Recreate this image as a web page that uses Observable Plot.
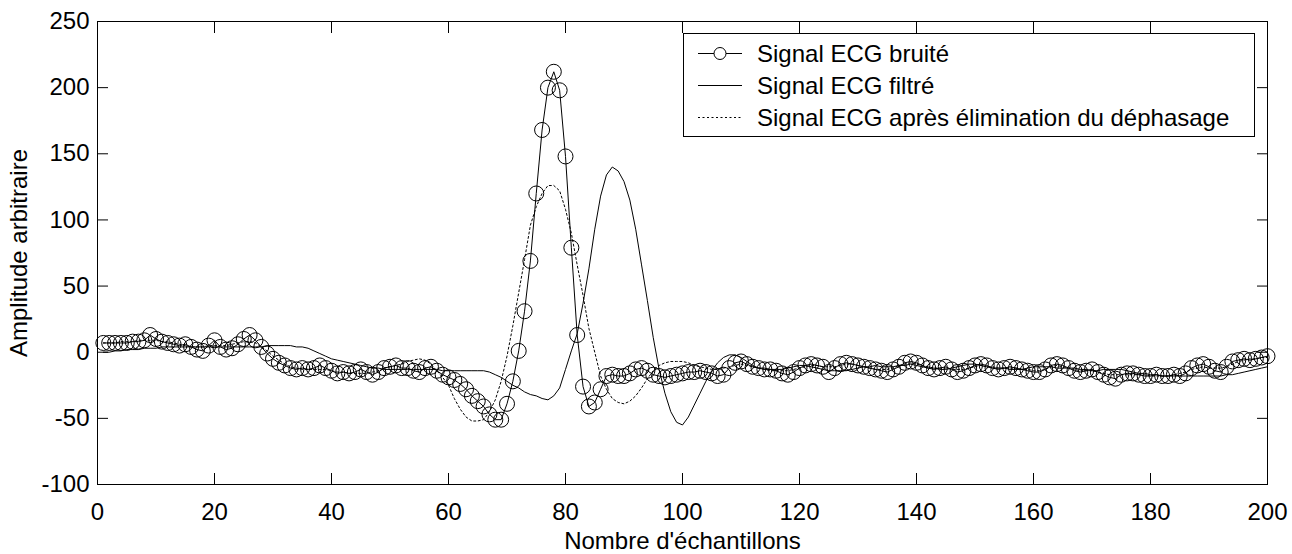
<!DOCTYPE html>
<html><head><meta charset="utf-8">
<script src="https://cdn.jsdelivr.net/npm/d3@7"></script>
<script src="https://cdn.jsdelivr.net/npm/@observablehq/plot@0.6"></script>
<style>body{margin:0;background:#fff;} #chart svg{display:block;}</style>
</head><body><div id="chart"></div>
<script>
// Samples 1..200
const noisy = [
  7, 7, 7, 7, 7, 8, 8, 9, 13, 10,
  8, 7, 6, 5, 6, 4, 2, 1, 5, 9,
  4, 2, 3, 6, 10, 13, 9, 4, -1, -5,
  -8, -10, -12, -13, -12, -13, -12, -10, -12, -14,
  -16, -15, -16, -15, -13, -15, -17, -15, -12, -11,
  -10, -12, -12, -14, -15, -12, -11, -14, -17, -19,
  -21, -24, -28, -33, -37, -41, -47, -51, -51, -39,
  -22, 1, 31, 69, 120, 168, 200, 212, 198, 148,
  79, 13, -26, -41, -38, -28, -18, -17, -18, -18,
  -16, -13, -12, -14, -17, -18, -19, -18, -17, -16,
  -15, -15, -14, -15, -16, -18, -17, -12, -8, -7,
  -9, -11, -12, -13, -13, -14, -16, -17, -15, -12,
  -10, -9, -10, -11, -15, -12, -9, -8, -9, -10,
  -11, -12, -13, -14, -15, -13, -11, -8, -7, -8,
  -10, -12, -13, -12, -11, -13, -15, -14, -12, -10,
  -9, -10, -12, -13, -12, -11, -12, -13, -14, -15,
  -15, -13, -10, -9, -10, -12, -14, -15, -14, -13,
  -15, -17, -19, -20, -17, -16, -16, -17, -18, -18,
  -17, -18, -18, -17, -18, -16, -12, -10, -9, -11,
  -14, -15, -11, -7, -6, -5, -6, -5, -4, -3
];
const filtered = [
  0, 0, 1, 1, 2, 2, 2, 3, 3, 3,
  4, 4, 4, 4, 4, 4, 4, 4, 4, 4,
  4, 4, 4, 4, 4, 4, 4, 4, 5, 5,
  5, 5, 5, 4, 4, 3, 1, -1, -3, -5,
  -6, -7, -8, -9, -10, -11, -12, -12, -13, -13,
  -13, -13, -13, -13, -13, -13, -13, -13, -14, -14,
  -14, -14, -14, -14, -14, -14, -15, -17, -19, -22,
  -25, -27, -30, -32, -33, -35, -36, -33, -27, -13,
  1, 14, 37, 63, 93, 118, 134, 140, 137, 129,
  115, 93, 66, 39, 11, -13, -31, -45, -53, -55,
  -49, -40, -31, -22, -14, -8, -4, -2, -2, -4,
  -7, -10, -12, -12, -13, -13, -13, -12, -11, -10,
  -10, -11, -12, -13, -14, -14, -14, -14, -13, -12,
  -11, -11, -10, -11, -11, -11, -10, -10, -9, -10,
  -11, -12, -12, -13, -13, -12, -11, -10, -9, -9,
  -10, -11, -12, -12, -12, -13, -13, -13, -12, -11,
  -11, -11, -11, -12, -12, -12, -12, -13, -13, -14,
  -14, -13, -13, -13, -13, -14, -15, -16, -16, -17,
  -17, -18, -18, -18, -18, -18, -18, -18, -18, -18,
  -18, -18, -17, -17, -16, -15, -14, -13, -12, -11
];
const zeroPhase = [
  7, 7, 7, 8, 8, 8, 9, 9, 9, 9,
  8, 8, 7, 6, 5, 4, 4, 4, 5, 5,
  5, 5, 6, 7, 8, 8, 7, 4, 1, -3,
  -6, -9, -11, -12, -13, -13, -13, -13, -13, -14,
  -15, -15, -16, -16, -16, -16, -15, -14, -12, -11,
  -10, -9, -7, -6, -5, -6, -9, -14, -19, -25,
  -35, -43, -49, -52, -52, -51, -45, -36, -22, -3,
  20, 45, 70, 96, 110, 120, 126, 126, 122, 108,
  90, 66, 43, 18, 0, -18, -28, -35, -38, -39,
  -37, -33, -27, -20, -14, -10, -8, -7, -7, -7,
  -8, -10, -11, -12, -13, -13, -12, -11, -10, -9,
  -10, -11, -12, -13, -14, -14, -14, -14, -13, -12,
  -11, -10, -10, -11, -11, -11, -10, -9, -9, -10,
  -11, -12, -13, -13, -13, -12, -10, -9, -8, -9,
  -10, -11, -12, -12, -12, -13, -13, -13, -12, -11,
  -10, -11, -11, -12, -12, -12, -12, -13, -13, -14,
  -14, -13, -11, -10, -11, -12, -13, -14, -14, -14,
  -15, -16, -17, -17, -17, -17, -17, -17, -17, -18,
  -18, -18, -18, -17, -16, -15, -13, -12, -11, -12,
  -12, -12, -11, -9, -7, -6, -5, -5, -4, -4
];
const xTicks = [0, 20, 40, 60, 80, 100, 120, 140, 160, 180, 200];
const yTicks = [-100, -50, 0, 50, 100, 150, 200, 250];
const seriesLabels = ["Signal ECG bruité", "Signal ECG filtré", "Signal ECG après élimination du déphasage"];
const xLabel = "Nombre d'échantillons";
const yLabel = "Amplitude arbitraire";

const rows = noisy.map((v, i) => ({n: i + 1, noisy: v, filtered: filtered[i], zero: zeroPhase[i]}));

const FONT = "'Liberation Sans', Arial, Helvetica, sans-serif";
const fmt = d => String(d);
const chart = Plot.plot({
  width: 1292, height: 554,
  marginLeft: 97, marginRight: 25, marginTop: 21, marginBottom: 70,
  style: {fontFamily: FONT, fontSize: "24px", color: "#000", background: "#fff", overflow: "visible"},
  x: {domain: [0, 200]},
  y: {domain: [-100, 250]},
  marks: [
    Plot.line(rows, {x: "n", y: "zero", stroke: "#000", strokeWidth: 1, strokeDasharray: "2,2.5"}),
    Plot.line(rows, {x: "n", y: "filtered", stroke: "#000", strokeWidth: 1}),
    Plot.line(rows, {x: "n", y: "noisy", stroke: "#000", strokeWidth: 1}),
    Plot.dot(rows, {x: "n", y: "noisy", r: 7.5, stroke: "#000", fill: "none", strokeWidth: 1}),
    Plot.frame({stroke: "#000", strokeWidth: 1}),
    Plot.axisX(xTicks, {anchor: "bottom", tickSize: -11, fill: "none", label: null}),
    Plot.axisX(xTicks, {anchor: "top", tickSize: -11, fill: "none", label: null}),
    Plot.axisY(yTicks, {anchor: "left", tickSize: -11, fill: "none", label: null}),
    Plot.axisY(yTicks, {anchor: "right", tickSize: -11, fill: "none", label: null}),
    Plot.axisX(xTicks, {anchor: "bottom", tickSize: 0, tickPadding: 18, stroke: "none", tickFormat: fmt,
      label: xLabel, labelAnchor: "center", labelArrow: "none", labelOffset: 64}),
    Plot.axisY(yTicks, {anchor: "left", tickSize: 0, tickPadding: 8, stroke: "none", tickFormat: fmt,
      label: yLabel, labelAnchor: "center", labelArrow: "none", labelOffset: 88})
  ]
});
document.getElementById("chart").appendChild(chart);

// Legend box
const svg = d3.select(chart);
const lg = svg.append("g").attr("font-family", FONT).attr("font-size", 24).attr("text-anchor", "start");
lg.append("rect").attr("x", 683.5).attr("y", 33.5).attr("width", 571).attr("height", 103)
  .attr("fill", "#fff").attr("stroke", "#000");
const rowY = [53.5, 85.5, 117.5];
seriesLabels.forEach((t, i) => {
  const y = rowY[i];
  const ln = lg.append("line").attr("x1", 698).attr("x2", 742).attr("y1", y).attr("y2", y)
    .attr("stroke", "#000").attr("stroke-width", 1);
  if (i === 2) ln.attr("stroke-dasharray", "2,2.5");
  if (i === 0) lg.append("circle").attr("cx", 720).attr("cy", y).attr("r", 6).attr("fill", "#fff").attr("stroke", "#000");
  lg.append("text").attr("x", 757).attr("y", y).attr("dy", "0.35em").attr("fill", "#000")
    .attr("text-anchor", "start").text(t);
});
</script>
</body></html>
